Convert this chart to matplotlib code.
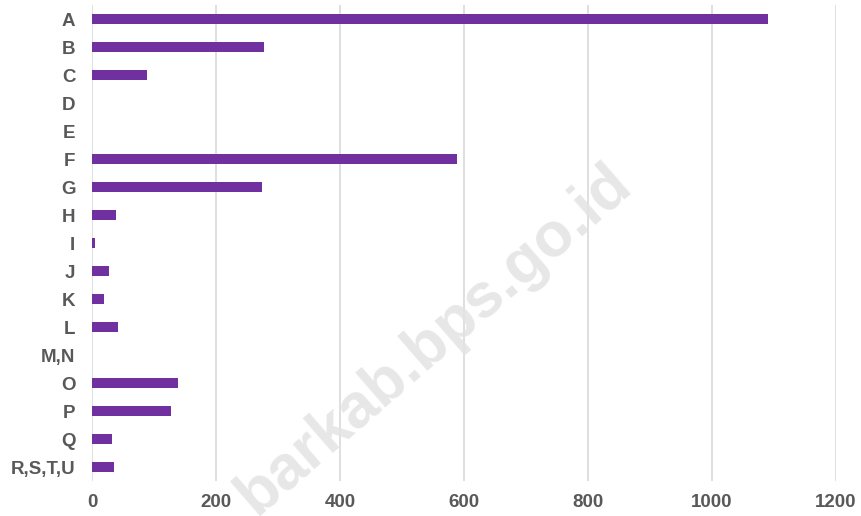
import numpy as np
import matplotlib.pyplot as plt

# Categories (top to bottom) and values
categories = ['A', 'B', 'C', 'D', 'E', 'F', 'G', 'H', 'I', 'J', 'K', 'L',
              'M,N', 'O', 'P', 'Q', 'R,S,T,U']
values = [1091, 278, 88, 0, 0, 588, 274, 38, 5, 27, 20, 42,
          0, 138, 127, 32, 36]
x_ticks = [0, 200, 400, 600, 800, 1000, 1200]

plt.rcParams['font.family'] = ['Liberation Sans', 'DejaVu Sans']

fig = plt.figure(figsize=(8.62, 5.16), dpi=100)
ax = fig.add_axes([0.1067, 0.0678, 0.8631, 0.9225])

y = np.arange(len(categories))
ax.barh(y, values, height=0.36, color='#7030A0', zorder=3)

ax.set_xlim(0, 1200)
ax.set_ylim(len(categories) - 0.5, -0.5)
ax.set_xticks(x_ticks)
ax.set_yticks(y)
ax.set_yticklabels(categories)

for s in ax.spines.values():
    s.set_visible(False)
ax.grid(axis='x', color='#d9d9d9', linewidth=1.2, zorder=0)
ax.tick_params(axis='both', length=0, labelsize=13.5, labelcolor='#595959')
ax.tick_params(axis='y', pad=12)
ax.tick_params(axis='x', pad=9)
for lab in ax.get_xticklabels() + ax.get_yticklabels():
    lab.set_fontweight('bold')

# watermark
fig.text(634 / 862, 1 - 188 / 516, 'barkab.bps.go.id', fontsize=45,
         fontweight='bold', color='#e3e3e3', rotation=41,
         rotation_mode='anchor', ha='right', va='baseline', zorder=1,
         alpha=0.85)

fig.savefig('out.png', dpi=100)
